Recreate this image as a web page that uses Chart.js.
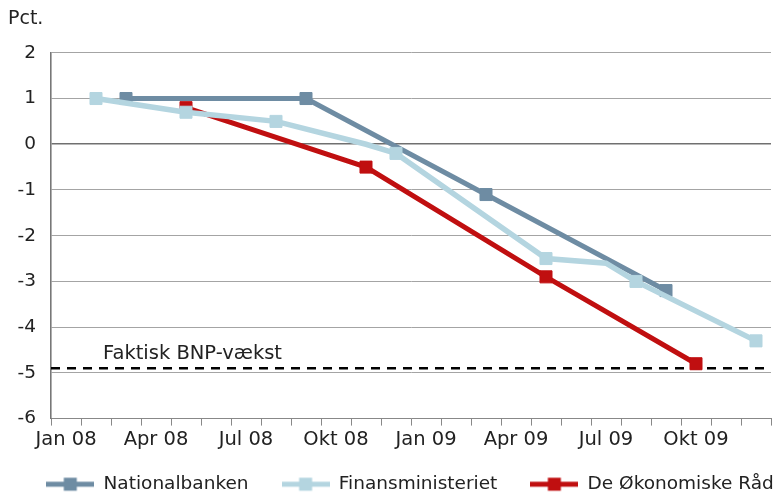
<!DOCTYPE html>
<html>
<head>
<meta charset="utf-8">
<script src="https://cdn.jsdelivr.net/npm/chart.js"></script>
<style>
  body { margin: 0; background: #fff; }
  #wrap { width: 773px; height: 495px; }
</style>
</head>
<body>
<div id="wrap"><canvas id="myChart"></canvas></div>
<script>
const months = ['Jan 08', 'Feb 08', 'Mar 08', 'Apr 08', 'Maj 08', 'Jun 08', 'Jul 08', 'Aug 08', 'Sep 08', 'Okt 08', 'Nov 08', 'Dec 08',
                'Jan 09', 'Feb 09', 'Mar 09', 'Apr 09', 'Maj 09', 'Jun 09', 'Jul 09', 'Aug 09', 'Sep 09', 'Okt 09', 'Nov 09', 'Dec 09'];
const nationalbanken = [null, null, 1.0, null, null, null, null, null, 1.0, null, null, null,
                        null, null, -1.1, null, null, null, null, null, -3.2, null, null, null];
const finansministeriet = [null, 1.0, null, null, 0.7, null, null, 0.5, null, null, 0.0, -0.2,
                           null, null, null, null, -2.5, null, -2.6, -3.0, null, null, null, -4.3];
const oekonomiskeRaad = [null, null, null, null, 0.8, null, null, null, null, null, -0.5, null,
                         null, null, null, null, -2.9, null, null, null, null, -4.8, null, null];
const faktiskBnp = -4.9;
const finUnmarked = [10, 18];

const FONT = 'DejaVu Sans';
const colNat = '#6e8ca3', colFin = '#b4d5e0', colRed = '#c00f10';

// little line + square swatch for the legend
function swatch(color) {
    const c = document.createElement('canvas');
    c.width = 48; c.height = 16;
    const g = c.getContext('2d');
    g.fillStyle = color;
    g.fillRect(0, 5.5, 48, 5);
    g.fillRect(17.5, 1.5, 13, 13);
    return c;
}

const bnpLabel = {
    id: 'bnpLabel',
    afterDatasetsDraw(chart) {
        const c = chart.ctx, y = chart.scales.y.getPixelForValue(faktiskBnp);
        c.save();
        c.font = '19.5px ' + FONT;
        c.fillStyle = '#222';
        c.textBaseline = 'alphabetic';
        c.fillText('Faktisk BNP-vækst', chart.chartArea.left + 52, y - 9);
        c.restore();
    }
};

// keep the legend on one row, a bit flatter, centred under the plot
const legendFit = {
    id: 'legendFit',
    beforeInit(chart) {
        const lg = chart.legend, fit = lg.fit;
        lg.fit = function () {
            const mw = this.maxWidth;
            this.maxWidth = mw + 100;
            fit.call(this);
            this.maxWidth = mw;
            this.width = mw;
            this.height = 40;
        };
    },
    afterLayout(chart) {
        const lg = chart.legend, ca = chart.chartArea;
        const p = lg.options.labels.padding, L = lg.lineWidths[0];
        const S = (ca.left + ca.right) / 2 - (L - p) / 2 - 1;
        lg.left = S - p - 1;
        lg.right = S + L + 1;
        lg.top -= 13;
    }
};

const ctx = document.getElementById('myChart').getContext('2d');
const myChart = new Chart(ctx, {
    type: 'line',
    data: {
        labels: months,
        datasets: [{
            label: 'Nationalbanken',
            data: nationalbanken,
            borderColor: colNat,
            backgroundColor: colNat,
            borderWidth: 5,
            pointStyle: 'rect',
            pointRadius: 8.5,
            pointBorderWidth: 1,
            spanGaps: true,
            order: 1,
            swatch: swatch(colNat)
        }, {
            label: 'Finansministeriet',
            data: finansministeriet,
            borderColor: colFin,
            backgroundColor: colFin,
            borderWidth: 5.5,
            pointStyle: 'rect',
            pointRadius: c => finUnmarked.includes(c.dataIndex) ? 0 : 8.5,
            pointBorderWidth: 1,
            spanGaps: true,
            order: 0,
            swatch: swatch(colFin)
        }, {
            label: 'De Økonomiske Råd',
            data: oekonomiskeRaad,
            borderColor: colRed,
            backgroundColor: colRed,
            borderWidth: 5,
            pointStyle: 'rect',
            pointRadius: 8.5,
            pointBorderWidth: 1,
            spanGaps: true,
            order: 2,
            swatch: swatch(colRed)
        }, {
            label: 'Faktisk BNP-vækst',
            data: [{x: 0, y: faktiskBnp}, {x: months.length, y: faktiskBnp}],
            xAxisID: 'x2',
            borderColor: '#000',
            borderWidth: 2.5,
            borderDash: [9, 7],
            pointRadius: 0,
            order: 3
        }]
    },
    options: {
        responsive: true,
        maintainAspectRatio: false,
        animation: false,
        layout: { autoPadding: false, padding: { left: 8, right: 2, top: 0, bottom: 0 } },
        scales: {
            x: {
                type: 'category',
                offset: true,
                afterFit: s => { s.paddingLeft = 0; s.paddingRight = 0; },
                grid: { offset: true, drawOnChartArea: false, drawTicks: true, tickLength: 7, color: '#888' },
                border: { color: '#888', width: 1 },
                ticks: {
                    autoSkip: false, maxRotation: 0, padding: 3,
                    color: '#222', font: { family: FONT, size: 19.5 },
                    callback: (v, i) => i % 3 === 0 ? months[i] : ''
                }
            },
            x2: {
                type: 'linear', min: 0, max: months.length, display: false,
                ticks: { display: false }
            },
            y: {
                min: -6, max: 2,
                afterFit: s => { s.width = 43; },
                grid: {
                    drawTicks: false,
                    color: c => c.tick.value === 0 ? '#707070' : '#a4a4a4',
                    lineWidth: c => c.tick.value === 0 ? 1.6 : 1
                },
                border: { color: '#777', width: 1.6 },
                ticks: { stepSize: 1, padding: 15, color: '#222', font: { family: FONT, size: 18.5 } }
            }
        },
        plugins: {
            title: {
                display: true, text: 'Pct.', align: 'start',
                color: '#222', font: { family: FONT, size: 19, weight: 'normal' },
                padding: { top: 8, bottom: 22 }
            },
            legend: {
                position: 'bottom',
                labels: {
                    usePointStyle: true, pointStyleWidth: 48, padding: 33,
                    color: '#222', font: { family: FONT, size: 18.5 },
                    filter: item => item.datasetIndex < 3,
                    sort: (a, b) => a.datasetIndex - b.datasetIndex,
                    generateLabels: chart => chart.data.datasets.map((ds, i) => ({
                        text: ds.label, datasetIndex: i, pointStyle: ds.swatch,
                        fillStyle: ds.borderColor, strokeStyle: ds.borderColor, lineWidth: 0,
                        fontColor: '#222', hidden: false
                    }))
                }
            },
            tooltip: { enabled: false }
        }
    },
    plugins: [bnpLabel, legendFit]
});
</script>
</body>
</html>
